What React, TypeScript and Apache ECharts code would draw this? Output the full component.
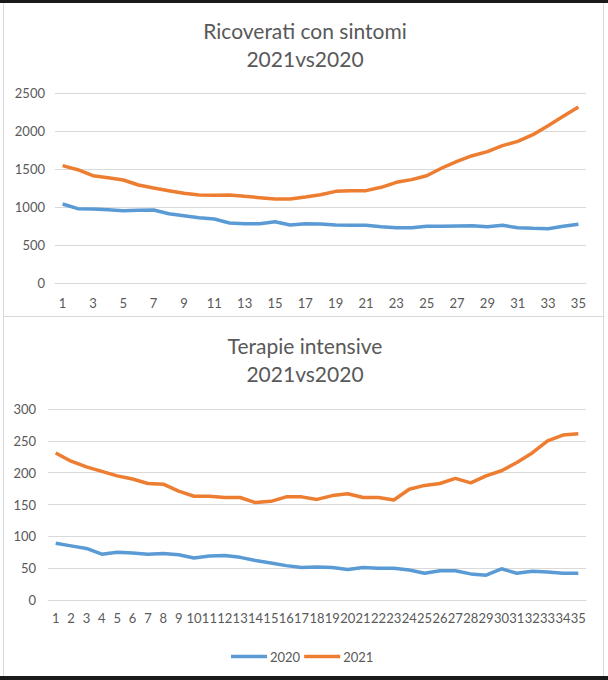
import React, { useEffect, useRef } from "react";
import * as echarts from "echarts";

const days: string[] = Array.from({ length: 35 }, (_, i) => String(i + 1));

const ricoverati2020: number[] = [
  1040, 978, 974, 965, 952, 956, 960, 912, 886, 860, 842, 790, 780, 780, 807, 763, 781,
  776, 763, 759, 759, 741, 728, 728, 746, 746, 750, 754, 741, 759, 728, 719, 715, 746, 772,
];
const ricoverati2021: number[] = [
  1544, 1491, 1412, 1386, 1355, 1289, 1250, 1215, 1180, 1158, 1154, 1158, 1140, 1123, 1105, 1105, 1132,
  1162, 1206, 1215, 1215, 1259, 1325, 1360, 1412, 1513, 1601, 1675, 1728, 1807, 1864, 1952, 2070, 2193, 2316,
];
const terapie2020: number[] = [
  89, 85, 81, 72, 75, 74, 72, 73, 71, 66, 69, 70, 67, 62, 58, 54, 51,
  52, 51, 48, 51, 50, 50, 47, 42, 46, 46, 41, 39, 49, 42, 45, 44, 42, 42,
];
const terapie2021: number[] = [
  231, 218, 209, 202, 195, 190, 183, 182, 171, 163, 163, 161, 161, 153, 155, 162, 162,
  158, 164, 167, 161, 161, 157, 174, 180, 183, 191, 184, 195, 203, 216, 231, 250, 259, 261,
];

const seriesNames = ["2020", "2021"];
const titleTop = "Ricoverati con sintomi\n2021vs2020";
const titleBottom = "Terapie intensive\n2021vs2020";

const BLUE = "#5b9bd5";
const ORANGE = "#ed7d31";
const TXT = "#595959";
const GRID = "#d9d9d9";
const FONT = "Lato, 'Open Sans', sans-serif";

export default function App() {
  const ref = useRef<HTMLDivElement>(null);
  useEffect(() => {
    if (!ref.current) return;
    const chart = echarts.init(ref.current, undefined, { renderer: "svg" });
    const titleStyle = {
      color: TXT,
      fontSize: 21,
      fontWeight: "normal" as const,
      fontFamily: FONT,
      lineHeight: 28,
    };
    const axisLabel = { color: TXT, fontSize: 13, fontFamily: FONT, formatter: (v: any) => String(v) };
    const lineStyle = (c: string) => ({ color: c, width: 3.5 });
    chart.setOption({
      animation: false,
      backgroundColor: "#ffffff",
      title: [
        { text: titleTop, left: 305, textAlign: "center", top: 16, padding: 0, textStyle: titleStyle },
        { text: titleBottom, left: 305, textAlign: "center", top: 331, padding: 0, textStyle: titleStyle },
      ],
      legend: {
        data: seriesNames.map((n) => ({ name: n, icon: "rect" })),
        left: 226,
        top: 645,
        itemWidth: 36,
        itemHeight: 3.5,
        itemGap: 4,
        textStyle: { color: TXT, fontSize: 13, fontFamily: FONT, padding: [0, 0, 0, -2] },
      },
      grid: [
        { left: 55, right: 22, top: 93, height: 190 },
        { left: 48, right: 22, top: 409, height: 191 },
      ],
      xAxis: [
        {
          type: "category",
          gridIndex: 0,
          data: days,
          boundaryGap: true,
          axisLine: { lineStyle: { color: GRID } },
          axisTick: { show: false },
          axisLabel: { ...axisLabel, interval: 1, margin: 13 },
        },
        {
          type: "category",
          gridIndex: 1,
          data: days,
          boundaryGap: true,
          axisLine: { lineStyle: { color: GRID } },
          axisTick: { show: false },
          axisLabel: { ...axisLabel, interval: 0, margin: 11 },
        },
      ],
      yAxis: [
        {
          type: "value",
          gridIndex: 0,
          min: 0,
          max: 2500,
          interval: 500,
          axisLine: { show: false },
          axisTick: { show: false },
          axisLabel: { ...axisLabel, margin: 10 },
          splitLine: { lineStyle: { color: GRID } },
        },
        {
          type: "value",
          gridIndex: 1,
          min: 0,
          max: 300,
          interval: 50,
          axisLine: { show: false },
          axisTick: { show: false },
          axisLabel: { ...axisLabel, margin: 12 },
          splitLine: { lineStyle: { color: GRID } },
        },
      ],
      series: [
        { name: "2020", type: "line", xAxisIndex: 0, yAxisIndex: 0, data: ricoverati2020, symbol: "none", lineStyle: lineStyle(BLUE), itemStyle: { color: BLUE } },
        { name: "2021", type: "line", xAxisIndex: 0, yAxisIndex: 0, data: ricoverati2021, symbol: "none", lineStyle: lineStyle(ORANGE), itemStyle: { color: ORANGE } },
        { name: "2020", type: "line", xAxisIndex: 1, yAxisIndex: 1, data: terapie2020, symbol: "none", lineStyle: lineStyle(BLUE), itemStyle: { color: BLUE } },
        { name: "2021", type: "line", xAxisIndex: 1, yAxisIndex: 1, data: terapie2021, symbol: "none", lineStyle: lineStyle(ORANGE), itemStyle: { color: ORANGE } },
      ],
      graphic: [
        { type: "rect", left: 0, top: 0, shape: { width: 608, height: 3 }, style: { fill: "#1a1a1a" }, silent: true },
        { type: "rect", left: 0, top: 676, shape: { width: 608, height: 4 }, style: { fill: "#1a1a1a" }, silent: true },
        { type: "line", shape: { x1: 3.5, y1: 3, x2: 3.5, y2: 676 }, style: { stroke: "#d9d9d9", lineWidth: 1 }, silent: true },
        { type: "line", shape: { x1: 603.5, y1: 3, x2: 603.5, y2: 676 }, style: { stroke: "#d9d9d9", lineWidth: 1 }, silent: true },
        { type: "line", shape: { x1: 3, y1: 316.5, x2: 604, y2: 316.5 }, style: { stroke: "#d9d9d9", lineWidth: 1 }, silent: true },
      ],
    });
    return () => chart.dispose();
  }, []);
  return (
    <div
      ref={ref}
      style={{ position: "fixed", left: 0, top: 0, width: 608, height: 680, background: "#fff" }}
    />
  );
}
